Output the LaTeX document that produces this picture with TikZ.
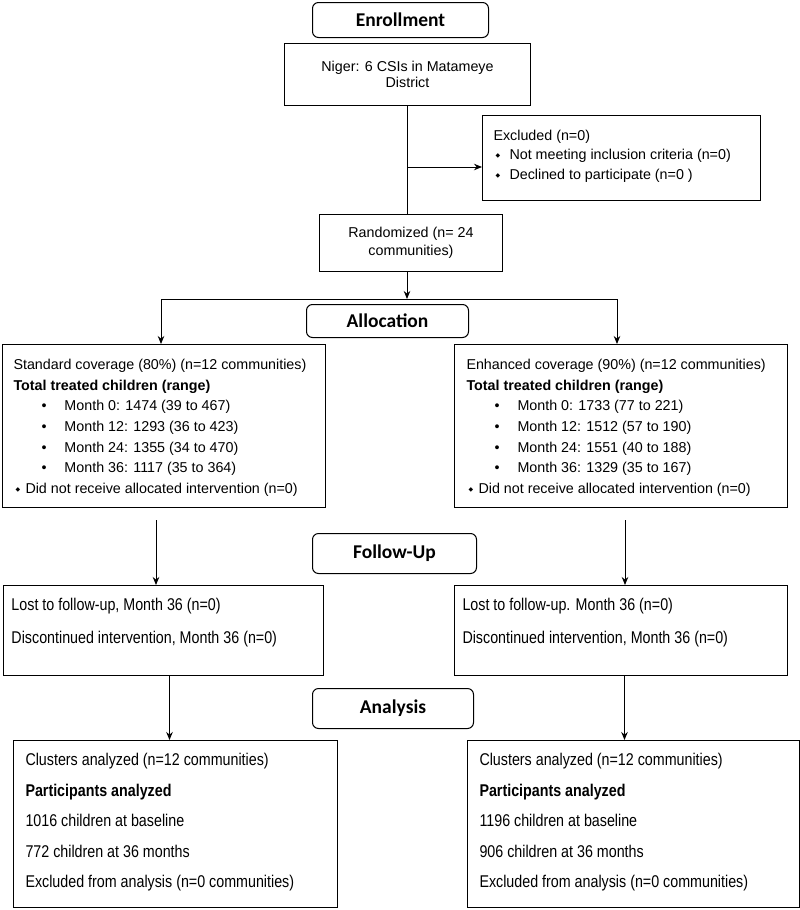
\documentclass[tikz,border=0pt]{standalone}
\usepackage{fontspec}
\setmainfont{Liberation Sans}
\newfontfamily\headfont{Carlito}
\newfontfamily\narrowfont[FakeStretch=0.84]{Liberation Sans}
\newfontfamily\symfont{DejaVu Sans}
\usepackage{tikz}
\usetikzlibrary{arrows.meta}

\newcommand{\dmd}{\raisebox{2pt}{\symfont\fontsize{6}{6}\selectfont ◆}}
\newcommand{\blt}{\hspace*{28pt}\makebox[23pt][l]{•}}

\begin{document}
\begin{tikzpicture}[x=1pt, y=-1pt, line width=1pt,
    box/.style={draw, rectangle, inner sep=0pt, anchor=north west},
    stage/.style={draw, rounded corners=6pt, inner sep=0pt, anchor=north west, font=\headfont\bfseries\fontsize{19.5}{21}\selectfont},
    txt/.style={anchor=north west, inner sep=0pt, align=left, font=\fontsize{14.3}{20.7}\selectfont},
    ltxt/.style={anchor=north west, inner sep=0pt, align=left, font=\narrowfont\fontsize{17}{33}\selectfont},
    arr/.style={-{Stealth[length=8pt,width=6.5pt]}}]

\useasboundingbox (0,0) rectangle (800,910);

% enrollment
\node[stage, minimum width=176pt, minimum height=35pt] (enrol) at (312,2) {Enrollment};
\node[box, align=center, minimum width=246pt, minimum height=62pt, font=\fontsize{14.3}{16}\selectfont] (niger) at (284,43) {Niger: 6 CSIs in Matameye\\District};
\node[box, minimum width=278pt, minimum height=85pt] (excl) at (482,115) {};
\node[txt, font=\fontsize{14.3}{19.5}\selectfont] (exclT) at (493,129.6) {Excluded (n=0)\\
    \hspace*{2pt}\makebox[14pt][l]{\dmd}Not meeting inclusion criteria (n=0)\\
    \hspace*{2pt}\makebox[14pt][l]{\dmd}Declined to participate (n=0 )};
\node[box, align=center, minimum width=183pt, minimum height=57pt, font=\fontsize{14.3}{18.5}\selectfont] (rand) at (319,214) {Randomized (n= 24\\communities)};

\coordinate (exc) at (407,167);
\coordinate (split) at (407,299);
\coordinate (splitL) at (161,299);
\coordinate (splitR) at (617,299);
\draw (niger.south) -- (niger.south |- rand.north);
\draw[arr] (exc) -- (exc -| excl.west);
\draw[arr] (rand.south -| split) -- (split);

% allocation
\node[stage, minimum width=162pt, minimum height=33pt] (alloc) at (306,304) {Allocation};
\node[box, minimum width=323pt, minimum height=163pt] (std) at (2,344) {};
\node[box, minimum width=333pt, minimum height=163pt] (enh) at (454,344) {};
\node[txt] (stdT) at (13,358.6) {Standard coverage (80\%) (n=12 communities)\\
    \textbf{Total treated children (range)}\\
    \blt Month 0: 1474 (39 to 467)\\
    \blt Month 12: 1293 (36 to 423)\\
    \blt Month 24: 1355 (34 to 470)\\
    \blt Month 36: 1117 (35 to 364)\\
    \makebox[12pt][l]{\hspace*{2pt}\dmd}Did not receive allocated intervention (n=0)};
\node[txt] (enhT) at (466,358.6) {Enhanced coverage (90\%) (n=12 communities)\\
    \textbf{Total treated children (range)}\\
    \blt Month 0: 1733 (77 to 221)\\
    \blt Month 12: 1512 (57 to 190)\\
    \blt Month 24: 1551 (40 to 188)\\
    \blt Month 36: 1329 (35 to 167)\\
    \makebox[12pt][l]{\hspace*{2pt}\dmd}Did not receive allocated intervention (n=0)};

\draw (splitL) -- (splitR);
\draw[arr] (splitL) -- (splitL |- std.north);
\draw[arr] (splitR) -- (splitR |- enh.north);

% follow-up
\node[stage, minimum width=164pt, minimum height=40pt] (follow) at (312,533) {Follow-Up};
\node[box, minimum width=320pt, minimum height=90pt] (lostL) at (3,585) {};
\node[box, minimum width=333pt, minimum height=90pt] (lostR) at (454,585) {};
\node[ltxt] (lostLT) at (11,597.7) {Lost to follow-up, Month 36 (n=0)\\Discontinued intervention, Month 36 (n=0)};
\node[ltxt] (lostRT) at (462,597.7) {Lost to follow-up. Month 36 (n=0)\\Discontinued intervention, Month 36 (n=0)};

\coordinate (fuL) at (156,520);
\coordinate (fuR) at (625,520);
\draw[arr] (fuL) -- (fuL |- lostL.north);
\draw[arr] (fuR) -- (fuR |- lostR.north);

% analysis
\node[stage, minimum width=161pt, minimum height=40pt] (anal) at (312,688) {Analysis};
\node[box, minimum width=324pt, minimum height=167pt] (anaL) at (13,740) {};
\node[box, minimum width=332pt, minimum height=167pt] (anaR) at (467,740) {};
\node[ltxt, font=\narrowfont\fontsize{17}{30.5}\selectfont] (anaLT) at (25,753) {Clusters analyzed (n=12 communities)\\
    \textbf{Participants analyzed}\\
    1016 children at baseline\\
    772 children at 36 months\\
    Excluded from analysis (n=0 communities)};
\node[ltxt, font=\narrowfont\fontsize{17}{30.5}\selectfont] (anaRT) at (479,753) {Clusters analyzed (n=12 communities)\\
    \textbf{Participants analyzed}\\
    1196 children at baseline\\
    906 children at 36 months\\
    Excluded from analysis (n=0 communities)};

\draw[arr] ([xshift=6pt]lostL.south) -- ([xshift=6pt]lostL.south |- anaL.north);
\draw[arr] ([xshift=3.5pt]lostR.south) -- ([xshift=3.5pt]lostR.south |- anaR.north);

\end{tikzpicture}
\end{document}
